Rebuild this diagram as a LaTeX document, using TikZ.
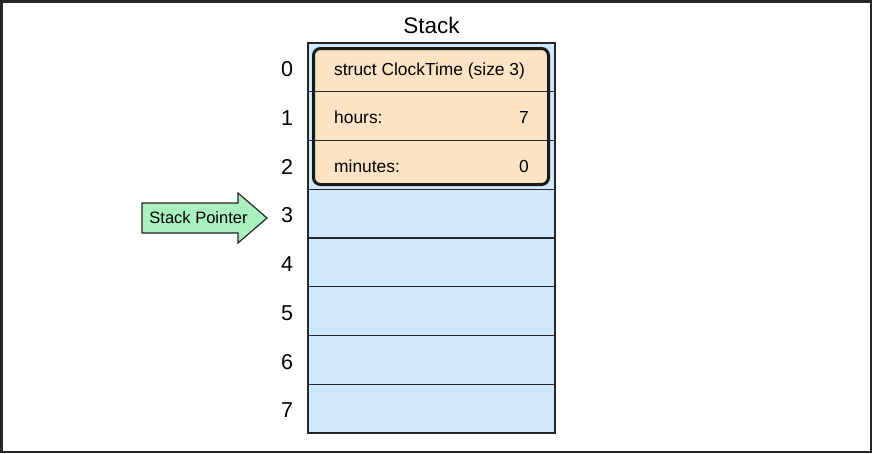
\documentclass[tikz,border=0pt]{standalone}
\usepackage{fontspec}
\setmainfont{Liberation Sans}
\definecolor{stackblue}{RGB}{208,232,251}
\definecolor{structorange}{RGB}{252,227,195}
\definecolor{pointergreen}{RGB}{170,240,190}
\begin{document}
\begin{tikzpicture}[x=1pt,y=-1pt,
  cell/.style={draw=black!85, line width=1.3pt, fill=stackblue, minimum width=247pt, minimum height=48.75pt, anchor=north west, inner sep=0pt, outer sep=0pt},
  idx/.style={font=\fontsize{21.5}{21.5}\selectfont, anchor=base, inner sep=0pt},
  field/.style={font=\fontsize{17.4}{17.4}\selectfont, anchor=base west, inner sep=0pt},
  value/.style={font=\fontsize{17.4}{17.4}\selectfont, anchor=base east, inner sep=0pt},
  rowline/.style={draw=black!85, line width=1.3pt},
  structbox/.style={draw=black!90, line width=3pt, rounded corners=7pt, fill=structorange, minimum width=235pt, minimum height=136pt, anchor=north west, inner sep=0pt, outer sep=0pt},
  pointer/.style={draw=black!85, line width=1.2pt, fill=pointergreen, line join=miter}]
\useasboundingbox (0,0) rectangle (872,453);
\draw[line width=2.5pt, draw=black!85] (1.25,1.25) rectangle (870.75,451.75);
\node[font=\fontsize{22.5}{22.5}\selectfont, anchor=base, inner sep=0pt] (title) at (431.5,33) {Stack};
\foreach \i in {0,...,7} {
  \node[cell] (c\i) at (308,{43+\i*48.75}) {};
  \node[idx] (n\i) at (287,{76.5+\i*48.75}) {\i};
}
\node[structbox] (sbox) at (313.5,48.5) {};
\draw[rowline] (c0.south west) -- (c0.south east);
\draw[rowline] (c1.south west) -- (c1.south east);
\node[field] (f0) at (334,75) {struct ClockTime (size 3)};
\node[field] (f1) at (334,123.5) {hours:};
\node[value] (v1) at (529,123.5) {7};
\node[field] (f2) at (334,172) {minutes:};
\node[value] (v2) at (529,172) {0};
\draw[pointer] (142,203) -- (238,203) -- (238,193) -- (267,218) -- (238,243) -- (238,233) -- (142,233) -- cycle;
\node[font=\fontsize{16.5}{16.5}\selectfont, anchor=base, inner sep=0pt] (sp) at (198.5,223.5) {Stack Pointer};
\end{tikzpicture}
\end{document}
